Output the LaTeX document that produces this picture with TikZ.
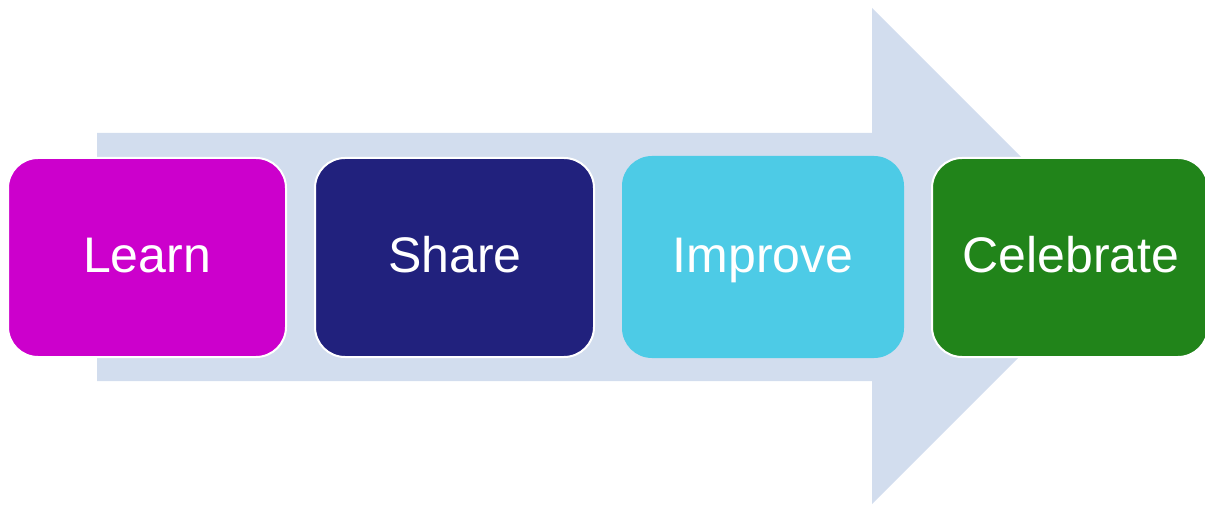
\documentclass[tikz,border=0pt]{standalone}
\usepackage{fontspec}
\setmainfont{Liberation Sans}
\definecolor{arrowfill}{HTML}{D2DDEE}
\definecolor{learncol}{HTML}{CC00CC}
\definecolor{sharecol}{HTML}{21217D}
\definecolor{improvecol}{HTML}{4DCBE6}
\definecolor{celebcol}{HTML}{21841A}
\begin{document}
\begin{tikzpicture}[x=1pt,y=1pt,
  stage/.style={rounded corners=30pt, draw=white, line width=2pt},
  stagetext/.style={text=white, font=\fontsize{50}{60}\selectfont}]
\useasboundingbox (0,0) rectangle (1205,504);
% background arrow
\fill[arrowfill] (97,123) -- (872,123) -- (872,0) -- (1120,248) -- (872,496)
  -- (872,371) -- (97,371) -- cycle;
% stage boxes
\filldraw[stage, fill=learncol] (8,147) rectangle (286,346);
\filldraw[stage, fill=sharecol] (315,147) rectangle (594,346);
\filldraw[stage, fill=improvecol, draw=none] (622,146) rectangle (904,348);
\filldraw[stage, fill=celebcol] (932,147) rectangle (1208,346);
% labels
\node[stagetext, anchor=base] (learn) at (147,231) {Learn};
\node[stagetext, anchor=base] (share) at (455,231) {Share};
\node[stagetext, anchor=base] (improve) at (763,231) {Improve};
\node[stagetext, anchor=base] (celebrate) at (1071,231) {Celebrate};
\end{tikzpicture}
\end{document}
